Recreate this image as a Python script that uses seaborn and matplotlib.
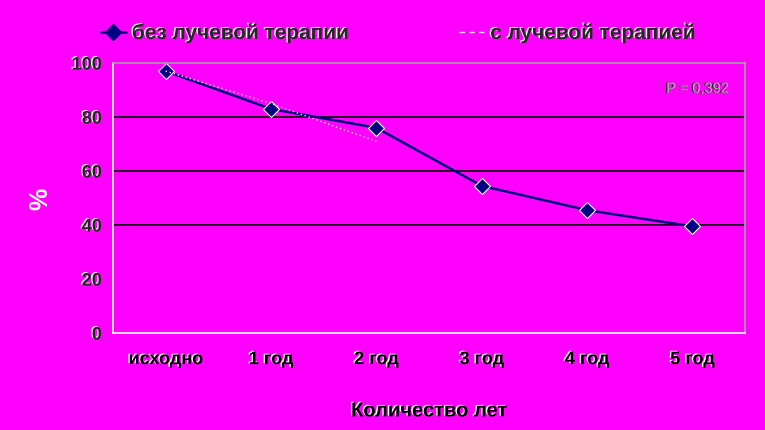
import matplotlib
matplotlib.use('Agg')
import matplotlib.pyplot as plt
import matplotlib.patheffects as pe
from matplotlib.lines import Line2D
import pandas as pd
import seaborn as sns

# data
categories = ['исходно', '1 год', '2 год', '3 год', '4 год', '5 год']
without_rt = [97, 83, 76, 54.5, 45.5, 39.5]
with_rt = [97, 85, 71]
label_without = 'без лучевой терапии'
label_with = 'с лучевой терапией'
y_ticks = [0, 20, 40, 60, 80, 100]
p_text = 'P = 0,392'

bg = '#ff00ff'
navy = '#000080'

df = pd.concat([
    pd.DataFrame({'cat': categories, 'val': without_rt, 'series': label_without}),
    pd.DataFrame({'cat': categories[:len(with_rt)], 'val': with_rt, 'series': label_with}),
], axis=0)

sns.set_style('white')
plt.rcParams['font.family'] = ['Liberation Sans', 'DejaVu Sans']

fig = plt.figure(figsize=(7.65, 4.31), dpi=100, facecolor=bg)
ax = fig.add_axes([0.1477, 0.225, 0.8263, 0.6265])
ax.set_facecolor(bg)

shadow = [pe.withSimplePatchShadow(offset=(-1, 0.6), shadow_rgbFace='white', alpha=1.0)]

sns.lineplot(data=df, x='cat', y='val', hue='series', style='series',
             palette={label_without: navy, label_with: '#ffd6ff'},
             dashes={label_without: '', label_with: (1, 2)},
             markers={label_without: 'D', label_with: ','},
             markersize=8, linewidth=1.8, sort=False, legend=False, ax=ax)
# the lighter series has no visible markers
for ln in ax.lines:
    if ln.get_color() == '#ffd6ff':
        ln.set_marker('')
        ln.set_linewidth(1.0)

ax.set_xlim(-0.5, len(categories) - 0.5)
ax.set_ylim(0, 100)
ax.set_yticks(y_ticks)
for y in [40, 60, 80]:
    ax.axhline(y, color='black', lw=1.2, zorder=0)

ax.spines['left'].set_color('white')
ax.spines['bottom'].set_color('white')
ax.spines['top'].set_color('#a0a0a0')
ax.spines['right'].set_color('#a0a0a0')
for s in ax.spines.values():
    s.set_linewidth(1.2)

ax.set_xticks([i - 0.5 for i in range(len(categories) + 1)], minor=False)
ax.set_xticklabels([])
ax.set_xticks(range(len(categories)), minor=True)
ax.set_xticklabels(categories, minor=True, fontsize=13, fontweight='bold', color='black')
ax.tick_params(axis='x', which='major', length=5, color='white', width=1, direction='out')
ax.tick_params(axis='x', which='minor', length=0, pad=13)
ax.tick_params(axis='y', length=4, color='white', width=1, direction='inout',
               labelsize=13, pad=6)
for t in ax.get_yticklabels():
    t.set_fontweight('bold')
    t.set_path_effects(shadow)
for t in ax.get_xticklabels(minor=True):
    t.set_path_effects(shadow)

ax.set_xlabel('Количество лет', fontsize=14.5, fontweight='bold', color='black', labelpad=24,
              path_effects=shadow)
ax.set_ylabel('%', fontsize=18, fontweight='bold', color='white', labelpad=14)

ax.text(0.975, 0.905, p_text, transform=ax.transAxes, ha='right', va='center',
        fontsize=10.5, color='#b0b0b0',
        path_effects=[pe.withSimplePatchShadow(offset=(-1, 0), shadow_rgbFace='#202020', alpha=1.0)])

handles = [Line2D([], [], color=navy, marker='D', markersize=8, lw=1.8),
           Line2D([], [], color='#ffd6ff', lw=1.0, dashes=(4, 3))]
leg = fig.legend(handles, [label_without, label_with], loc='center left',
                 bbox_to_anchor=(0.107, 0.92), ncol=2, frameon=False,
                 columnspacing=5.2, handlelength=1.2, handletextpad=0.3,
                 prop={'size': 15, 'weight': 'bold'})
for t in leg.get_texts():
    t.set_path_effects(shadow)

plt.savefig('out.png', dpi=100, facecolor=bg)
